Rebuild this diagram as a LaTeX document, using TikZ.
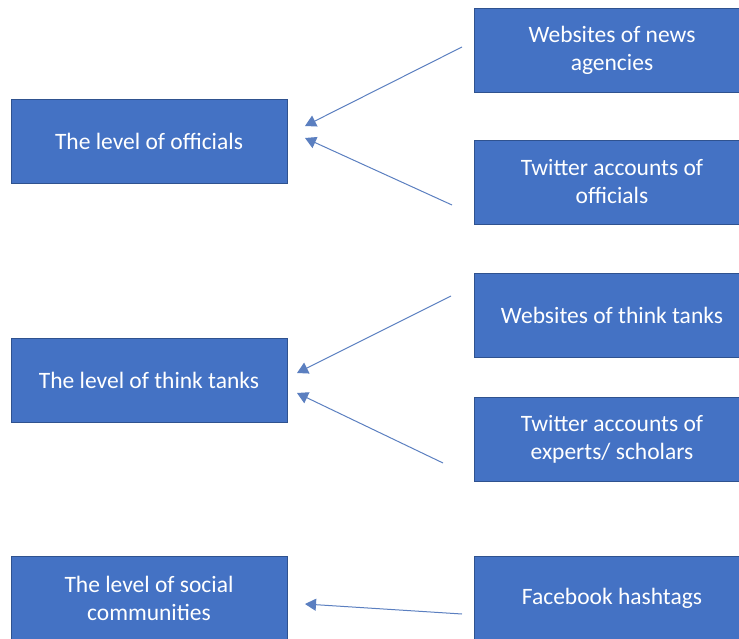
\documentclass[tikz,border=0pt]{standalone}
\usepackage{fontspec}
\setmainfont{Carlito}
\usetikzlibrary{arrows.meta}
\definecolor{boxblue}{HTML}{4472C4}
\definecolor{boxedge}{HTML}{2F528F}
\definecolor{linkblue}{HTML}{5B7FC0}

\begin{document}
\begin{tikzpicture}[x=1pt, y=-1pt,
  level/.style={draw=boxedge, fill=boxblue, text=white, line width=0.8pt, minimum width=276pt, minimum height=84pt, align=center, font=\fontsize{23.5}{28}\selectfont},
  source/.style={level},
  link/.style={draw=linkblue, line width=1pt, -{Triangle[length=11pt, width=12pt]}}]
\useasboundingbox (0,0) rectangle (739,639);
\node[level] (officials) at (149,141) {The level of officials};
\node[level] (thinktanks) at (149,380) {The level of think tanks};
\node[level] (social) at (149,598) {The level of social\\communities};
\node[source] (news) at (612,50) {Websites of news\\agencies};
\node[source] (twofficials) at (612,182) {Twitter accounts of\\officials};
\node[source] (webthink) at (612,315) {Websites of think tanks};
\node[source] (twexperts) at (612,439) {Twitter accounts of\\experts/ scholars};
\node[source] (facebook) at (612,598) {Facebook hashtags};
% free ends of the arrows
\coordinate (a1) at (462,47);  \coordinate (b1) at (305,126);
\coordinate (a2) at (452,205); \coordinate (b2) at (305,138);
\coordinate (a3) at (451,296); \coordinate (b3) at (297,373);
\coordinate (a4) at (443,463); \coordinate (b4) at (297,393);
\coordinate (a5) at (462,614); \coordinate (b5) at (305,604);
\draw[link] (a1) -- (b1);
\draw[link] (a2) -- (b2);
\draw[link] (a3) -- (b3);
\draw[link] (a4) -- (b4);
\draw[link] (a5) -- (b5);
\end{tikzpicture}
\end{document}
